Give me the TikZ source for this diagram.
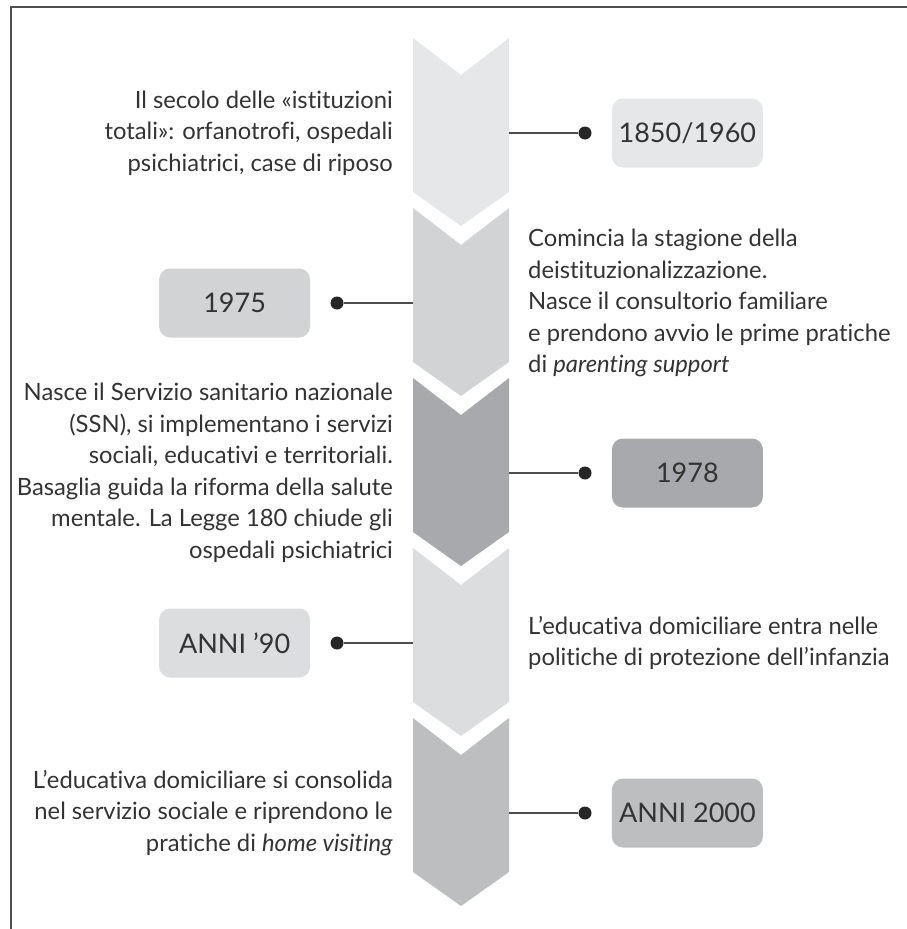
\documentclass[tikz,border=0pt]{standalone}
\usepackage{fontspec}
\setmainfont{Lato}[Ligatures=CommonOff]
\usetikzlibrary{positioning}
\definecolor{chevA}{HTML}{E6E7E8}
\definecolor{chevB}{HTML}{D1D3D4}
\definecolor{chevC}{HTML}{A7A9AC}
\definecolor{chevD}{HTML}{DCDDDE}
\definecolor{chevE}{HTML}{BCBEC0}
\definecolor{inkgray}{HTML}{333333}
\definecolor{rulegray}{HTML}{4D4D4D}

\begin{document}
\begin{tikzpicture}[x=1pt,y=-1pt,
  yearbox/.style={rounded corners=11pt,minimum width=151pt,minimum height=69pt,inner sep=0pt,text=inkgray,font=\fontsize{27}{30}\selectfont},
  eventtext/.style={inner sep=0pt,text=inkgray,font=\fontsize{23.8}{31.5}\selectfont},
  linkdot/.style={circle,fill=black!85,inner sep=0pt,minimum size=13pt},
  link/.style={draw=rulegray,line width=1.2pt}]
\useasboundingbox (0,0) rectangle (907,929);
% frame
\draw[rulegray,line width=1.3pt] (11,929) -- (11,7) -- (907,7);
% chevrons
\fill[chevA] (413,38) -- (461,75) -- (509,38) -- (509,192) -- (461,226) -- (413,192) -- cycle;
\fill[chevB] (413,208) -- (461,245) -- (509,208) -- (509,362) -- (461,396) -- (413,362) -- cycle;
\fill[chevC] (413,378) -- (461,415) -- (509,378) -- (509,532) -- (461,566) -- (413,532) -- cycle;
\fill[chevD] (413,548) -- (461,585) -- (509,548) -- (509,702) -- (461,736) -- (413,702) -- cycle;
\fill[chevE] (413,718) -- (461,755) -- (509,718) -- (509,872) -- (461,906) -- (413,872) -- cycle;
% 1850/1960
\coordinate (e1) at (509,133);
\node[linkdot] (d1) at (585,133) {};
\node[yearbox,fill=chevA,right=20pt of d1] (y1) {1850/1960};
\draw[link] (e1) -- (d1);
\node[eventtext,align=right,anchor=east] (t1) at (393,133) {Il secolo delle «istituzioni\\totali»: orfanotrofi, ospedali\\psichiatrici, case di riposo};
% 1975
\coordinate (e2) at (413,303);
\node[linkdot] (d2) at (337,303) {};
\node[yearbox,fill=chevB,left=20pt of d2] (y2) {1975};
\draw[link] (d2) -- (e2);
\node[eventtext,align=left,anchor=west] (t2) at (528,303) {Comincia la stagione della\\deistituzionalizzazione.\\Nasce il consultorio familiare\\e prendono avvio le prime pratiche\\di \textit{parenting support}};
% 1978
\coordinate (e3) at (509,473);
\node[linkdot] (d3) at (585,473) {};
\node[yearbox,fill=chevC,right=20pt of d3] (y3) {1978};
\draw[link] (e3) -- (d3);
\node[eventtext,align=right,anchor=east] (t3) at (393,473) {Nasce il Servizio sanitario nazionale\\(SSN), si implementano i servizi\\sociali, educativi e territoriali.\\Basaglia guida la riforma della salute\\mentale. La Legge 180 chiude gli\\ospedali psichiatrici};
% anni '90
\coordinate (e4) at (413,643);
\node[linkdot] (d4) at (337,643) {};
\node[yearbox,fill=chevD,left=20pt of d4] (y4) {ANNI ’90};
\draw[link] (d4) -- (e4);
\node[eventtext,align=left,anchor=west] (t4) at (528,643) {L’educativa domiciliare entra nelle\\politiche di protezione dell’infanzia};
% anni 2000
\coordinate (e5) at (509,813);
\node[linkdot] (d5) at (585,813) {};
\node[yearbox,fill=chevE,right=20pt of d5] (y5) {ANNI 2000};
\draw[link] (e5) -- (d5);
\node[eventtext,align=right,anchor=east] (t5) at (393,813) {L’educativa domiciliare si consolida\\nel servizio sociale e riprendono le\\pratiche di \textit{home visiting}};
\end{tikzpicture}
\end{document}
